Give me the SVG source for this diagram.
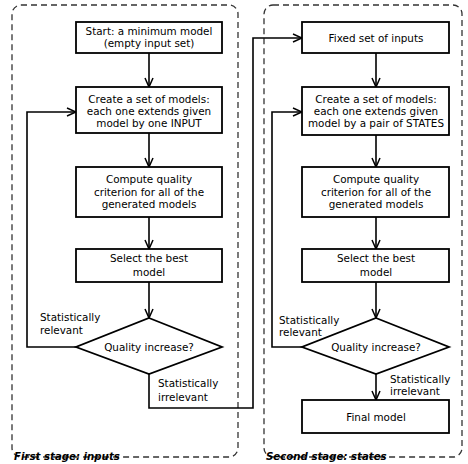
<svg xmlns="http://www.w3.org/2000/svg" width="468" height="464" viewBox="0 0 468 464">
<defs>
<marker id="ah" viewBox="0 0 10 10" refX="10" refY="5" markerWidth="10" markerHeight="10" markerUnits="userSpaceOnUse" orient="auto">
<polyline points="1,1 10,5 1,9" fill="none" stroke="#000" stroke-width="1.5"/>
</marker>
<style>
.panel{fill:none;stroke:#333;stroke-width:1.3;stroke-dasharray:6,4}
.box{fill:#fff;stroke:#000;stroke-width:1.8}
.t{font-family:"DejaVu Sans",sans-serif;font-size:10.4px;fill:#000;text-anchor:middle}
.l{font-family:"DejaVu Sans",sans-serif;font-size:10.4px;fill:#000}
.cap{font-family:"DejaVu Sans",sans-serif;font-size:10.2px;font-weight:bold;font-style:italic;fill:#000}
.c{fill:none;stroke:#000;stroke-width:1.6}
</style>
</defs>
<rect width="468" height="464" fill="#fff"/>
<g id="panel-first">
<rect class="panel" x="12" y="5" width="226" height="452" rx="9"/>
<text class="cap" x="14" y="460">First stage: inputs</text>
</g>
<g id="panel-second">
<rect class="panel" x="264" y="5" width="198" height="452" rx="9"/>
<text class="cap" x="266" y="460">Second stage: states</text>
</g>
<g id="connectors">
<line class="c" x1="149" y1="53" x2="149" y2="87" marker-end="url(#ah)"/>
<line class="c" x1="149" y1="133" x2="149" y2="167" marker-end="url(#ah)"/>
<line class="c" x1="149" y1="217" x2="149" y2="249" marker-end="url(#ah)"/>
<line class="c" x1="149" y1="282" x2="149" y2="318" marker-end="url(#ah)"/>
<polyline class="c" points="76,347 27,347 27,112 76,112" marker-end="url(#ah)"/>
<polyline class="c" points="149,374 149,408 253,408 253,38 302,38" marker-end="url(#ah)"/>
<line class="c" x1="376" y1="53" x2="376" y2="87" marker-end="url(#ah)"/>
<line class="c" x1="376" y1="135" x2="376" y2="167" marker-end="url(#ah)"/>
<line class="c" x1="376" y1="217" x2="376" y2="249" marker-end="url(#ah)"/>
<line class="c" x1="376" y1="282" x2="376" y2="318" marker-end="url(#ah)"/>
<polyline class="c" points="302,347 272,347 272,112 302,112" marker-end="url(#ah)"/>
<line class="c" x1="376" y1="374" x2="376" y2="400" marker-end="url(#ah)"/>
<text class="l" x="40" y="321">Statistically</text>
<text class="l" x="40" y="334">relevant</text>
<text class="l" x="158" y="387">Statistically</text>
<text class="l" x="158" y="401">irrelevant</text>
<text class="l" x="279" y="324">Statistically</text>
<text class="l" x="279" y="336">relevant</text>
<text class="l" x="390" y="383">Statistically</text>
<text class="l" x="390" y="395">irrelevant</text>
</g>
<g id="start">
<rect class="box" x="76" y="22" width="146" height="31"/>
<text class="t" x="149" y="35">Start: a minimum model</text>
<text class="t" x="149" y="47">(empty input set)</text>
</g>
<g id="create-inputs">
<rect class="box" x="76" y="87" width="146" height="46"/>
<text class="t" x="149" y="103">Create a set of models:</text>
<text class="t" x="149" y="115">each one extends given</text>
<text class="t" x="149" y="127">model by one INPUT</text>
</g>
<g id="compute-1">
<rect class="box" x="76" y="167" width="146" height="50"/>
<text class="t" x="149" y="183">Compute quality</text>
<text class="t" x="149" y="196">criterion for all of the</text>
<text class="t" x="149" y="208">generated models</text>
</g>
<g id="select-1">
<rect class="box" x="76" y="249" width="146" height="33"/>
<text class="t" x="149" y="262">Select the best</text>
<text class="t" x="149" y="276">model</text>
</g>
<g id="decision-1">
<polygon class="box" points="149,318 222,347 149,374 76,347"/>
<text class="t" x="149" y="351">Quality increase?</text>
</g>
<g id="fixed">
<rect class="box" x="302" y="22" width="147" height="31"/>
<text class="t" x="376" y="42">Fixed set of inputs</text>
</g>
<g id="create-states">
<rect class="box" x="302" y="87" width="147" height="48"/>
<text class="t" x="376" y="103">Create a set of models:</text>
<text class="t" x="376" y="115">each one extends given</text>
<text class="t" x="376" y="127">model by a pair of STATES</text>
</g>
<g id="compute-2">
<rect class="box" x="302" y="167" width="147" height="50"/>
<text class="t" x="376" y="183">Compute quality</text>
<text class="t" x="376" y="196">criterion for all of the</text>
<text class="t" x="376" y="208">generated models</text>
</g>
<g id="select-2">
<rect class="box" x="302" y="249" width="147" height="33"/>
<text class="t" x="376" y="262">Select the best</text>
<text class="t" x="376" y="276">model</text>
</g>
<g id="decision-2">
<polygon class="box" points="376,318 449,347 376,374 302,347"/>
<text class="t" x="376" y="351">Quality increase?</text>
</g>
<g id="final">
<rect class="box" x="302" y="400" width="147" height="33"/>
<text class="t" x="376" y="421">Final model</text>
</g>
</svg>
